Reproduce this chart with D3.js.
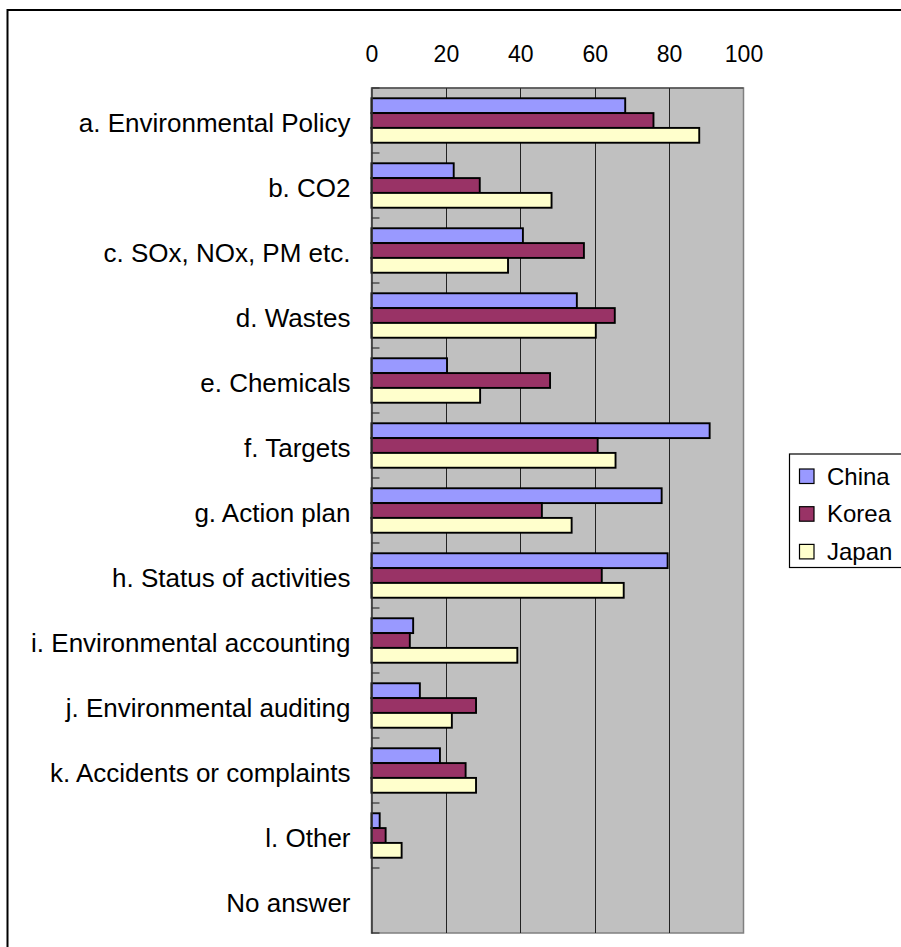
<!DOCTYPE html>
<html>
<head>
<meta charset="utf-8">
<script src="https://cdn.jsdelivr.net/npm/d3@7/dist/d3.min.js"></script>
<style>
  html, body { margin: 0; padding: 0; background: #fff; }
  svg { display: block; font-family: "Liberation Sans", Arial, sans-serif; }
</style>
</head>
<body>
<svg id="chart" width="901" height="947"></svg>
<script>
const categories = [
  "a. Environmental Policy",
  "b. CO2",
  "c. SOx, NOx, PM etc.",
  "d. Wastes",
  "e. Chemicals",
  "f. Targets",
  "g. Action plan",
  "h. Status of activities",
  "i. Environmental accounting",
  "j. Environmental auditing",
  "k. Accidents or complaints",
  "l. Other",
  "No answer"
];
const seriesNames = ["China", "Korea", "Japan"];
const chinaValues = [68.2, 22.1, 40.7, 55.2, 20.3, 90.9, 78.0, 79.6, 11.2, 13.0, 18.4, 2.2, 0];
const koreaValues = [75.8, 29.1, 57.1, 65.4, 48.0, 60.8, 45.8, 61.9, 10.3, 28.1, 25.3, 3.8, 0];
const japanValues = [88.1, 48.4, 36.7, 60.3, 29.2, 65.6, 53.8, 67.8, 39.2, 21.6, 28.1, 8.1, 0];
const seriesColors = ["#9999FF", "#993366", "#FFFFCC"];
const xTicks = [0, 20, 40, 60, 80, 100];

const seriesValues = [chinaValues, koreaValues, japanValues];
const svg = d3.select("#chart");

// outer chart border
svg.append("rect")
  .attr("x", 7.5).attr("y", 10).attr("width", 940).attr("height", 960)
  .attr("fill", "#fff").attr("stroke", "#000").attr("stroke-width", 2);

const plot = { left: 371.5, right: 743.5, top: 88, bottom: 933 };

const x = d3.scaleLinear().domain([0, 100]).range([plot.left, plot.right]);
const y = d3.scaleBand().domain(categories).range([plot.top, plot.bottom]).paddingInner(0).paddingOuter(0);
const bw = y.bandwidth();
const gap = bw * 0.158;
const yInner = d3.scaleBand().domain(seriesNames).range([gap, bw - gap]).padding(0);

// plot background
svg.append("rect")
  .attr("x", plot.left).attr("y", plot.top)
  .attr("width", plot.right - plot.left).attr("height", plot.bottom - plot.top)
  .attr("fill", "#C0C0C0").attr("stroke", "#808080").attr("stroke-width", 1.5);

// gridlines
svg.append("g").selectAll("line")
  .data(xTicks.filter(t => t > 0 && t < 100))
  .join("line")
  .attr("x1", d => Math.round(x(d)) + 0.5).attr("x2", d => Math.round(x(d)) + 0.5)
  .attr("y1", plot.top).attr("y2", plot.bottom)
  .attr("stroke", "#222").attr("stroke-width", 1);

// top border darker
svg.append("line")
  .attr("x1", plot.left).attr("x2", plot.right).attr("y1", plot.top).attr("y2", plot.top)
  .attr("stroke", "#333").attr("stroke-width", 1);

// bars
const groups = svg.append("g").selectAll("g")
  .data(categories)
  .join("g")
  .attr("transform", d => `translate(0,${y(d)})`);

groups.selectAll("rect")
  .data((d, i) => seriesNames.map((s, j) => ({ s, v: seriesValues[j][i], color: seriesColors[j] })))
  .join("rect")
  .filter(d => d.v > 0)
  .attr("x", x(0))
  .attr("y", d => yInner(d.s))
  .attr("width", d => x(d.v) - x(0))
  .attr("height", yInner.bandwidth())
  .attr("fill", d => d.color)
  .attr("stroke", "#000")
  .attr("stroke-width", 1.9);

// category axis (left)
const yAxis = d3.axisLeft(y).tickSize(0).tickPadding(21);
const gy = svg.append("g").attr("transform", `translate(${plot.left},0)`).call(yAxis);
gy.select(".domain").attr("stroke", "#333").attr("stroke-width", 1.5);
gy.selectAll("text")
  .attr("font-size", "26px")
  .attr("font-family", "'Liberation Sans', Arial, sans-serif")
  .attr("fill", "#000")
  .attr("dy", "0.46em");

// boundary tick marks (inside)
const boundaries = categories.map(c => y(c)).concat([plot.bottom]);
svg.append("g").selectAll("line")
  .data(boundaries)
  .join("line")
  .attr("x1", plot.left).attr("x2", plot.left + 8)
  .attr("y1", d => d).attr("y2", d => d)
  .attr("stroke", "#333").attr("stroke-width", 1.2);

// value axis (top)
const xAxis = d3.axisTop(x).tickValues(xTicks).tickSize(0).tickPadding(26);
const gx = svg.append("g").attr("transform", `translate(0,${plot.top})`).call(xAxis);
gx.select(".domain").remove();
gx.selectAll("text")
  .attr("font-size", "23px")
  .attr("font-family", "'Liberation Sans', Arial, sans-serif")
  .attr("fill", "#000");

// legend
const legend = svg.append("g").attr("transform", "translate(789.5,454)");
legend.append("rect")
  .attr("x", 0).attr("y", 0).attr("width", 140).attr("height", 113.5)
  .attr("fill", "#fff").attr("stroke", "#000").attr("stroke-width", 1.2);
const li = legend.selectAll("g.item")
  .data(seriesNames)
  .join("g").attr("class", "item")
  .attr("transform", (d, i) => `translate(10,${15 + i * 37.7})`);
li.append("rect")
  .attr("width", 14.5).attr("height", 14.5)
  .attr("fill", (d, i) => seriesColors[i])
  .attr("stroke", "#000").attr("stroke-width", 1.2);
li.append("text")
  .attr("x", 27.5).attr("y", 15.5)
  .attr("font-size", "24px")
  .attr("fill", "#000")
  .text(d => d);
</script>
</body>
</html>
